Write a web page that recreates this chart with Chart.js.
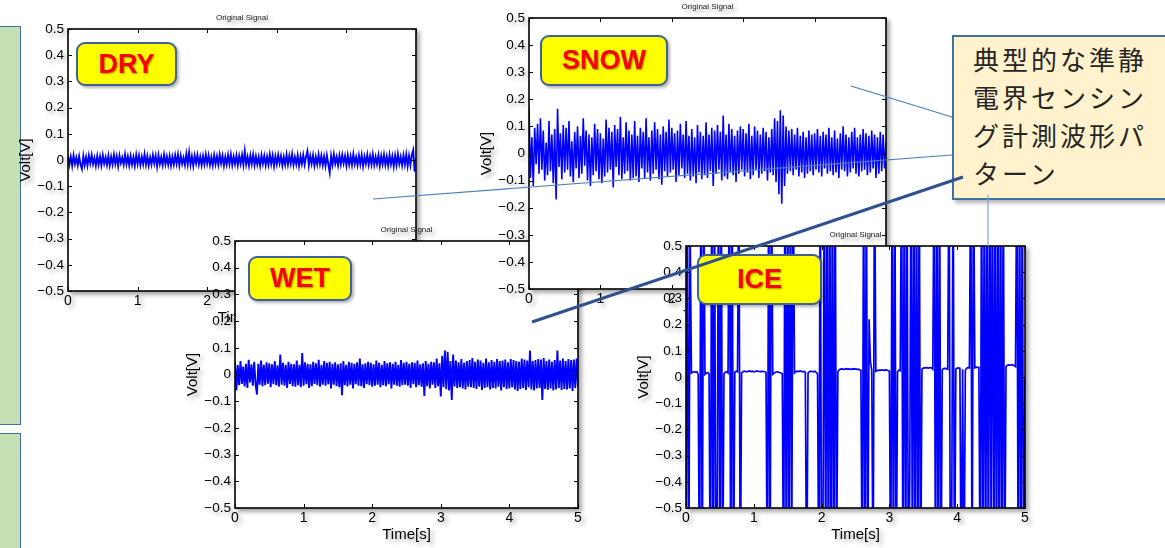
<!DOCTYPE html>
<html>
<head>
<meta charset="utf-8">
<script src="https://cdn.jsdelivr.net/npm/chart.js@4.4.1/dist/chart.umd.min.js"></script>
<style>
  body { margin: 0; width: 1165px; height: 548px; overflow: hidden; background: #fff; position: relative; }
  .panel { position: absolute; background: #c5e0b4; border: 1.5px solid #41719c; box-sizing: border-box; z-index: 0; }
  .plot { position: absolute; filter: drop-shadow(3px 3px 2px rgba(0, 0, 0, 0.35)); }
  .tag {
    position: absolute; box-sizing: border-box; background: #ffff00; border: 2px solid #3e6296; border-radius: 9px;
    color: #ff0000; font: bold 27px "Liberation Sans", Arial, sans-serif;
    display: flex; align-items: center; justify-content: center;
    text-shadow: 1px 1px 2px rgba(0, 0, 0, 0.4); box-shadow: 2px 2px 3px rgba(0, 0, 0, 0.3);
  }
  .callout {
    position: absolute; left: 952px; top: 35px; width: 240px; height: 165px; box-sizing: border-box;
    background: #fff2cc; border: 2px solid #41719c; box-shadow: 3px 3px 4px rgba(0, 0, 0, 0.3);
    padding: 3px 0 0 19px; z-index: 9;
    font: 400 26px "Noto Sans CJK JP", sans-serif; letter-spacing: 3px; line-height: 38px; color: #262626; white-space: nowrap;
  }
  svg.links { position: absolute; left: 0; top: 0; z-index: 10; }
</style>
</head>
<body>
<div class="panel" style="left:-3px;top:26px;width:24px;height:399px;"></div>
<div class="panel" style="left:-3px;top:433px;width:24px;height:130px;"></div>

<div class="callout">典型的な準静<br>電界センシン<br>グ計測波形パ<br>ターン</div>

<svg class="links" width="1165" height="548">
  <line x1="851" y1="86" x2="952" y2="117" stroke="#4a7ebb" stroke-width="1.2"/>
  <line x1="373" y1="199" x2="952" y2="155" stroke="#4a7ebb" stroke-width="1.2"/>
  <line x1="532" y1="322" x2="963" y2="177" stroke="#2f528f" stroke-width="3"/>
  <line x1="988" y1="195" x2="988" y2="246" stroke="#7f9fd4" stroke-width="1.2"/>
</svg>

<script>
'use strict';
// *** Data (millivolts, sampled every 0.02 s over 5 s) ***
const signalSeconds = 5;
const timeTickStep = 1;
const voltMin = -0.5;
const voltMax = 0.5;
const voltTickStep = 0.1;

const dryMilliVolts = [
	16,-18,12,-22,18,-15,9,-20,14,-17,-34,15,-19,11,-21,17,-13,19,-16,8,-22,15,-18,13,-20,
	18,-14,10,-19,16,-21,12,-17,20,-15,14,-23,17,-12,9,-18,21,-16,13,-20,15,-17,11,-22,19,
	-15,17,-19,12,-16,22,-18,14,-21,10,-17,19,-13,16,-24,18,-15,11,-19,20,-16,13,-18,15,-21,
	12,-17,18,-14,21,-20,16,-15,9,-19,23,-16,29,-18,14,-22,17,-13,19,-17,12,-20,15,-16,21,
	-14,17,-19,11,-21,18,-16,14,-18,20,-13,16,-22,12,-17,19,-15,21,-19,13,-16,17,-20,15,-14,
	19,-18,33,-16,12,-21,17,-15,20,-19,14,-17,11,-22,18,-14,16,-20,13,-18,21,-15,17,-23,14,
	-16,19,-13,15,-21,12,-18,20,-17,16,-14,22,-19,11,-16,18,-22,14,-15,19,-17,13,34,-20,16,
	-14,18,-21,12,-17,20,-15,16,-19,13,-22,17,-16,-48,15,-18,21,-14,12,-20,17,-16,19,-13,15,
	-21,18,-17,14,-19,22,-15,11,-20,17,-16,19,-23,13,-14,20,-18,15,-17,21,-19,12,-16,18,-22,
	16,-15,20,-18,13,-21,19,-16,14,-24,17,-19,22,-15,12,-20,18,-17,21,-23,16,-19,20,38,-44,
	6,
];

const snowMilliVolts = [
	170,-90,60,-120,95,-40,110,-75,130,-60,85,-100,40,-80,120,-65,70,-110,90,-170,165,-50,75,-95,105,
	-70,95,-60,120,-85,45,-105,80,-55,100,-90,65,-75,130,-45,85,-100,70,-120,60,-80,110,-65,90,-95,
	75,-110,55,-85,125,-70,95,-60,80,-125,105,-50,90,-80,135,-95,60,-75,115,-65,85,-100,70,-90,120,
	-85,65,-105,95,-55,80,-90,130,-70,60,-100,85,-75,115,-60,90,-95,70,-115,100,-65,80,-85,125,-70,
	95,-60,75,-105,85,-80,110,-55,70,-90,120,-75,65,-100,90,-85,60,-110,105,-70,80,-95,65,-80,115,
	-90,70,-65,95,-120,85,-75,105,-60,80,-100,140,-85,70,-95,110,-70,90,-80,65,-105,85,-75,100,-60,
	90,-85,75,-70,110,-95,65,-80,100,-60,85,-90,70,-75,95,-65,80,-100,60,-70,90,-80,130,-105,120,
	-150,160,-185,140,-120,100,-75,85,-65,90,-80,70,-60,95,-85,65,-70,80,-90,60,-75,85,-65,70,-80,
	75,-60,90,-70,65,-85,80,-55,70,-75,95,-65,60,-80,85,-70,55,-90,75,-60,100,-65,70,-85,60,
	-70,80,-55,95,-75,60,-85,70,-65,90,-60,75,-80,65,-70,85,-55,70,-90,60,-75,80,-65,70,-55,
	40,
];

const wetMilliVolts = [
	45,-60,35,-40,50,-35,30,-45,40,-50,55,-30,38,-42,48,-36,-75,40,-38,52,-44,36,-40,46,-34,
	42,-48,38,-36,50,-40,34,-46,75,-38,44,-42,36,-50,48,-35,40,-44,38,-46,52,-40,36,-48,80,
	-42,46,-36,40,-50,38,-44,48,-35,42,-40,55,-46,36,-38,50,-42,44,-36,48,-52,40,-38,46,-44,
	38,-48,42,-78,50,-40,36,-45,48,-38,44,-52,40,-36,46,-42,60,-44,38,-50,42,-36,48,-40,44,
	-46,38,-42,52,-38,44,-48,36,-40,50,-44,42,-36,46,-52,40,-38,48,-42,36,-46,54,-40,44,-38,
	48,-42,40,-50,46,-36,44,-48,52,-40,38,-46,42,-80,50,-44,40,-52,48,-38,46,-50,60,-44,42,
	-82,70,-48,90,-55,85,-60,50,-95,75,-45,52,-50,46,-48,58,-52,44,-56,50,-46,54,-48,62,-50,
	48,-54,56,-46,52,-58,44,-50,60,-48,46,-56,54,-50,48,-52,58,-46,50,-60,52,-48,56,-54,46,
	-52,58,-48,54,-56,50,-62,48,-54,60,-50,56,-58,52,-48,90,-56,50,-60,54,-52,58,-50,56,-95,
	62,-54,50,-58,56,-52,48,-60,54,-56,90,-50,52,-58,60,-54,50,-56,58,-52,54,-62,56,-50,60,
	-45,
];

// +-900 marks excursions that leave the +-0.5 V window
const iceMilliVolts = [
	-900,900,-900,600,15,18,20,19,20,10,
	-900,900,-900,900,
	10,15,17,12,
	-900,900,-900,900,-900,-500,900,-900,900,-900,
	12,18,20,15,
	900,-900,900,-900,
	18,22,20,
	900,-900,
	15,20,22,21,20,22,23,21,22,20,21,23,22,21,20,22,21,20,18,
	-900,900,-900,900,
	10,15,18,20,19,17,15,12,
	-900,900,-900,900,-900,900,-700,900,
	15,20,22,21,23,22,20,21,18,
	-900,
	15,20,22,21,20,22,18,12,
	-900,900,-900,-600,900,-900,900,-900,900,-900,900,-900,900,-800,
	20,28,30,31,29,30,32,30,31,29,30,31,30,32,29,30,28,25,
	-900,900,-900,900,-900,220,60,25,
	-900,900,
	22,25,26,25,27,26,25,27,26,25,22,
	-900,900,-900,900,-900,
	20,26,24,
	900,-900,900,-900,900,-900,-400,900,-900,900,-900,900,-900,900,-900,
	30,34,35,36,35,34,36,35,30,
	900,-900,900,-900,900,-900,
	28,32,33,32,30,
	900,-900,-500,900,-900,
	30,34,35,33,
	-900,30,-900,25,
	34,36,35,
	900,-900,900,
	35,38,37,36,
	-900,900,-900,900,-900,900,-900,900,-600,900,-900,900,-900,900,-900,900,-900,900,-900,
	40,45,46,45,47,46,44,40,
	900,-900,900,-900,900,-900,0,
];

// *** Layout of the four pasted plots (page pixels of each axes box) ***
const plotPanels = [
	{ name: 'DRY',  values: dryMilliVolts,  box: [68, 29, 416, 291],   z: 1, tag: [76, 42, 101, 44],  width: 1.9 },
	{ name: 'WET',  values: wetMilliVolts,  box: [235, 241, 578, 508], z: 3, tag: [248, 256, 104, 45], width: 1.9 },
	{ name: 'SNOW', values: snowMilliVolts, box: [529, 18, 886, 289],  z: 5, tag: [540, 35, 128, 51], width: 1.6 },
	{ name: 'ICE',  values: iceMilliVolts,  box: [686, 246, 1025, 508], z: 7, tag: [697, 254, 125, 51], width: 1.7 },
];

Chart.defaults.font.family = '"Liberation Sans", Arial, sans-serif';

function formatVolt(value) {
	if (Math.abs(value) < 1e-9) return '0';
	return value.toFixed(1).replace('-', '\u2212');
}

// MATLAB style box: white axes, inward ticks on all sides, small title
const matlabFrame = {
	id: 'matlabFrame',
	beforeDraw(chart) {
		const { ctx, chartArea: a } = chart;
		ctx.save();
		ctx.fillStyle = '#fff';
		ctx.fillRect(a.left, a.top, a.width, a.height);
		ctx.restore();
	},
	afterDraw(chart, args, opts) {
		const { ctx, chartArea: a, scales } = chart;
		ctx.save();
		ctx.strokeStyle = '#000';
		ctx.lineWidth = 1;
		ctx.beginPath();
		scales.x.ticks.forEach((t) => {
			const px = Math.round(scales.x.getPixelForValue(t.value)) + 0.5;
			ctx.moveTo(px, a.bottom); ctx.lineTo(px, a.bottom - 4);
			ctx.moveTo(px, a.top); ctx.lineTo(px, a.top + 4);
		});
		scales.y.ticks.forEach((t) => {
			const py = Math.round(scales.y.getPixelForValue(t.value)) + 0.5;
			ctx.moveTo(a.left, py); ctx.lineTo(a.left + 4, py);
			ctx.moveTo(a.right, py); ctx.lineTo(a.right - 4, py);
		});
		ctx.stroke();
		ctx.lineWidth = 1.6;
		ctx.strokeRect(a.left, a.top, a.width, a.height);
		ctx.fillStyle = '#222';
		ctx.font = '8px "Liberation Sans", Arial, sans-serif';
		ctx.textAlign = 'center';
		ctx.textBaseline = 'middle';
		ctx.fillText(opts.text, (a.left + a.right) / 2, a.top - 11);
		ctx.restore();
	},
};

function makePlot(panel) {
	const [l, t, r, b] = panel.box;
	const padL = 60, padT = 30, padR = 14, padB = 45;
	const canvas = document.createElement('canvas');
	canvas.width = r - l + padL + padR;
	canvas.height = b - t + padT + padB;
	canvas.className = 'plot';
	canvas.style.left = (l - padL) + 'px';
	canvas.style.top = (t - padT) + 'px';
	canvas.style.zIndex = panel.z;
	document.body.appendChild(canvas);

	const n = panel.values.length;
	const points = panel.values.map((mv, i) => ({ x: i * signalSeconds / (n - 1), y: mv / 1000 }));

	new Chart(canvas, {
		type: 'line',
		data: {
			datasets: [{
				data: points,
				borderColor: '#0000ff',
				borderWidth: panel.width,
				pointRadius: 0,
				tension: 0,
				fill: false,
			}],
		},
		options: {
			responsive: false,
			animation: false,
			events: [],
			layout: { padding: { left: 0, top: padT, right: padR, bottom: 0 } },
			plugins: {
				legend: { display: false },
				tooltip: { enabled: false },
				matlabFrame: { text: 'Original Signal' },
			},
			scales: {
				x: {
					type: 'linear',
					min: 0,
					max: signalSeconds,
					afterFit: (s) => { s.height = padB; },
					grid: { display: false, drawTicks: false },
					border: { display: false },
					ticks: { stepSize: timeTickStep, color: '#000', padding: 2, maxRotation: 0, autoSkip: false, font: { size: 14 } },
					title: { display: true, text: 'Time[s]', color: '#000', font: { size: 15 }, padding: { top: 0, bottom: 9 } },
				},
				y: {
					min: voltMin,
					max: voltMax,
					afterFit: (s) => { s.width = padL; },
					grid: { display: false, drawTicks: false },
					border: { display: false },
					ticks: { stepSize: voltTickStep, color: '#000', padding: 4, autoSkip: false, font: { size: 13.5 }, callback: formatVolt },
					title: { display: true, text: 'Volt[V]', color: '#000', font: { size: 15 }, padding: { top: 9, bottom: 0 } },
				},
			},
		},
		plugins: [matlabFrame],
	});

	const tag = document.createElement('div');
	const [tx, ty, tw, th] = panel.tag;
	tag.className = 'tag';
	tag.textContent = panel.name;
	tag.style.left = tx + 'px';
	tag.style.top = ty + 'px';
	tag.style.width = tw + 'px';
	tag.style.height = th + 'px';
	tag.style.zIndex = panel.z + 1;
	document.body.appendChild(tag);
}

// *** Entry Point ***
plotPanels.forEach(makePlot);
</script>
</body>
</html>
